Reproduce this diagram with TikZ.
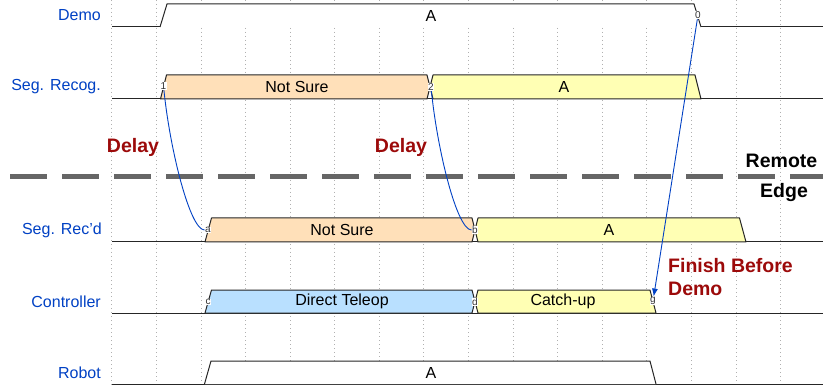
\documentclass[tikz,border=0pt]{standalone}
\usepackage{fontspec}
\setmainfont{Liberation Sans}
\usetikzlibrary{arrows.meta}
\definecolor{sigblue}{HTML}{0041C4}
\definecolor{orangefill}{HTML}{FFE0B9}
\definecolor{yellowfill}{HTML}{FFFFB4}
\definecolor{bluefill}{HTML}{B9E0FF}
\definecolor{darkred}{HTML}{9C0A0A}
\definecolor{dashgray}{HTML}{666666}
\definecolor{gridgray}{HTML}{B0B0B0}
\begin{document}
\begin{tikzpicture}[x=1pt,y=-1pt,
  gridline/.style={gridgray,line width=0.8pt,dash pattern=on 1pt off 3pt},
  wave/.style={draw=black!85,line width=1pt,line join=round},
  signame/.style={anchor=east,text=sigblue,font=\fontsize{16}{19}\selectfont,inner sep=0pt},
  datatext/.style={font=\fontsize{16}{19}\selectfont,inner sep=0pt},
  marker/.style={fill=white,inner sep=0.5pt,font=\fontsize{10}{11}\selectfont,text=black!80},
  note/.style={font=\bfseries\fontsize{19.5}{23}\selectfont,inner sep=0pt},
  arc/.style={sigblue,line width=0.9pt}
]
\useasboundingbox (0,0) rectangle (823,385);
\fill[white] (0,0) rectangle (823,385);

% grid
\foreach \k in {0,...,15}{
  \draw[gridline] ({111.8+44.58*\k},0) -- ({111.8+44.58*\k},385);
}

% baselines
\foreach \yb in {27,99,242,313,384}{
  \draw[wave] (112,\yb) -- (823,\yb);
}

% Demo
\filldraw[wave,fill=white] (160,27) -- (167,4) -- (694,4) -- (701,27);
\node[datatext] (demoA) at (431,15.5) {A};

% Seg. Recog.
\filldraw[wave,fill=orangefill] (160.5,99) -- (166.5,75) -- (427,75) -- (430,87) -- (427,99) -- cycle;
\filldraw[wave,fill=yellowfill] (433,75) -- (430,87) -- (433,99) -- (701,99) -- (695,75) -- cycle;
\node[datatext] (srNS) at (297,87) {Not Sure};
\node[datatext] (srA) at (564,87) {A};

% Seg. Rec'd
\filldraw[wave,fill=orangefill] (205,242) -- (211.5,218) -- (472,218) -- (475,230) -- (472,242) -- cycle;
\filldraw[wave,fill=yellowfill] (478,218) -- (475,230) -- (478,242) -- (746,242) -- (739.5,218) -- cycle;
\node[datatext] (rdNS) at (342,230) {Not Sure};
\node[datatext] (rdA) at (609,230) {A};

% Controller
\filldraw[wave,fill=bluefill] (205,313) -- (211.5,290) -- (472,290) -- (475,301.5) -- (472,313) -- cycle;
\filldraw[wave,fill=yellowfill] (478,290) -- (475,301.5) -- (478,313) -- (656,313) -- (650,290) -- cycle;
\node[datatext] (ctDT) at (342,301.5) {Direct Teleop};
\node[datatext] (ctCU) at (563,301.5) {Catch-up};

% Robot
\filldraw[wave,fill=white] (204.5,384) -- (211,361) -- (650,361) -- (656,384);
\node[datatext] (robA) at (431,372.5) {A};

% signal names
\node[signame] (lDemo) at (101,15.5) {Demo};
\node[signame] (lSR) at (101,87) {Seg. Recog.};
\node[signame] (lRD) at (102,230) {Seg. Rec'd};
\node[signame] (lCT) at (101,301.5) {Controller};
\node[signame] (lRB) at (101,372.5) {Robot};

% dashed separator
\draw[dashgray,line width=5pt,dash pattern=on 37pt off 15pt] (10,177) -- (823,177);

% markers
\node[marker] (n0) at (698,15) {0};
\node[marker] (n1) at (163.5,86) {1};
\node[marker] (n2) at (431,87) {2};
\node[marker] (na) at (208,230) {a};
\node[marker] (nb) at (475,230) {b};
\node[marker] (nc) at (208,302) {c};
\node[marker] (nd) at (475,302) {d};
\node[marker] (ng) at (653,301) {g};

% arcs
\draw[arc] (n1) .. controls +(6.5,64) and +(-18,0) .. (na);
\draw[arc] (n2) .. controls +(6.5,64) and +(-18,0) .. (nb);
\draw[arc,-{Latex[length=8pt,width=6pt]}] (n0) -- (ng);

% notes
\node[note,text=darkred] (d1) at (133,147) {Delay};
\node[note,text=darkred] (d2) at (401,147) {Delay};
\node[note,text=darkred,anchor=west,align=left] (fin) at (668,277.5) {Finish Before\\Demo};
\node[note] (remote) at (781.5,161) {Remote};
\node[note] (edge) at (784,193) {Edge};
\end{tikzpicture}
\end{document}
